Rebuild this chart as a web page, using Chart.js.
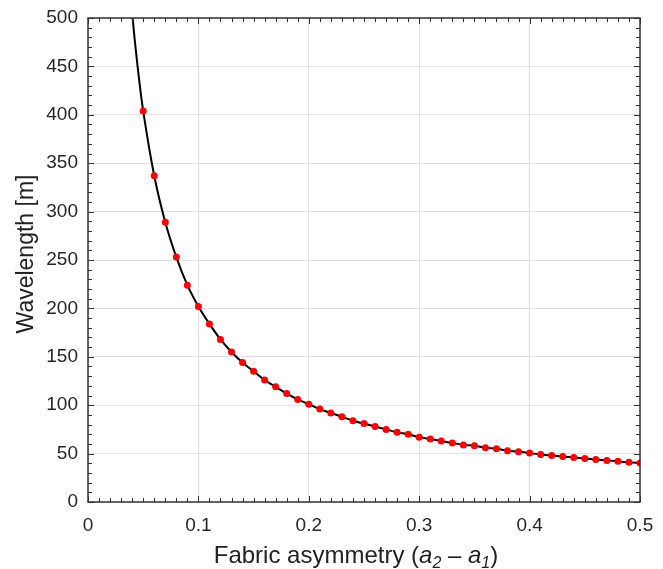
<!DOCTYPE html>
<html>
<head>
<meta charset="utf-8">
<script src="https://cdn.jsdelivr.net/npm/chart.js@4.4.0/dist/chart.umd.min.js"></script>
<style>
    html, body { margin: 0; padding: 0; background: #fff; }
    #wrap { width: 663px; height: 569px; }
</style>
</head>
<body>
<div id="wrap"><canvas id="myChart" width="663" height="569"></canvas></div>
<script>
// red markers
const asymmetry = [0.05, 0.06, 0.07, 0.08, 0.09, 0.10, 0.11, 0.12, 0.13, 0.14,
    0.15, 0.16, 0.17, 0.18, 0.19, 0.20, 0.21, 0.22, 0.23, 0.24,
    0.25, 0.26, 0.27, 0.28, 0.29, 0.30, 0.31, 0.32, 0.33, 0.34,
    0.35, 0.36, 0.37, 0.38, 0.39, 0.40, 0.41, 0.42, 0.43, 0.44,
    0.45, 0.46, 0.47, 0.48, 0.49, 0.50];
const wavelength = [404, 337, 289, 253, 224, 202, 184, 168, 155, 144,
    135, 126, 119, 112, 106, 101, 96, 92, 88, 84,
    81, 78, 75, 72, 70, 67, 65, 63, 61, 59,
    58, 56, 55, 53, 52, 50.5, 49, 48, 47, 46,
    45, 44, 43, 42, 41, 40.4];

// black curve, starts above the top of the plot
const curveHeadX = [0.0395, 0.042, 0.045, 0.0475];
const curveHeadY = [511, 481, 449, 425];

const xTicks = [0, 0.1, 0.2, 0.3, 0.4, 0.5];
const yTicks = [0, 50, 100, 150, 200, 250, 300, 350, 400, 450, 500];

const FONT = '"Liberation Sans", Arial, Helvetica, sans-serif';

const dots = asymmetry.map((v, i) => ({x: v, y: wavelength[i]}));
const curve = curveHeadX.map((v, i) => ({x: v, y: curveHeadY[i]})).concat(dots);

const frameTicks = {
    id: 'frameTicks',
    afterDatasetsDraw(chart) {
        const {ctx, chartArea: a, scales: {x, y}} = chart;
        ctx.save();
        ctx.strokeStyle = '#333';
        ctx.lineWidth = 1;
        ctx.beginPath();
        // inward ticks, minor every 0.01 / 10
        for (let i = 0; i <= 50; i++) {
            const px = Math.round(x.getPixelForValue(i / 100)) + 0.5;
            const len = i % 10 === 0 ? 6 : 4;
            ctx.moveTo(px, a.bottom); ctx.lineTo(px, a.bottom - len);
            ctx.moveTo(px, a.top); ctx.lineTo(px, a.top + len);
        }
        for (let i = 0; i <= 50; i++) {
            const py = Math.round(y.getPixelForValue(i * 10)) + 0.5;
            const len = i % 5 === 0 ? 6 : 4;
            ctx.moveTo(a.left, py); ctx.lineTo(a.left + len, py);
            ctx.moveTo(a.right, py); ctx.lineTo(a.right - len, py);
        }
        ctx.stroke();
        ctx.lineWidth = 1.5;
        ctx.strokeRect(a.left, a.top, a.right - a.left, a.bottom - a.top);

        // axis titles
        ctx.fillStyle = '#222';
        ctx.textBaseline = 'alphabetic';
        const parts = [
            {t: 'Fabric asymmetry (', f: '24px ' + FONT, dy: 0},
            {t: 'a', f: 'italic 24px ' + FONT, dy: 0},
            {t: '2', f: 'italic 16px ' + FONT, dy: 5},
            {t: ' \u2013 ', f: '24px ' + FONT, dy: 0},
            {t: 'a', f: 'italic 24px ' + FONT, dy: 0},
            {t: '1', f: 'italic 16px ' + FONT, dy: 5},
            {t: ')', f: '24px ' + FONT, dy: 0}
        ];
        let total = 0;
        parts.forEach(p => { ctx.font = p.f; p.w = ctx.measureText(p.t).width; total += p.w; });
        let cx = (a.left + a.right) / 2 - 8 - total / 2;
        const base = 563;
        parts.forEach(p => {
            ctx.font = p.f;
            ctx.textAlign = 'left';
            ctx.fillText(p.t, cx, base + p.dy);
            cx += p.w;
        });

        ctx.translate(27, (a.top + a.bottom) / 2 - 6);
        ctx.rotate(-Math.PI / 2);
        ctx.font = '23px ' + FONT;
        ctx.textAlign = 'center';
        ctx.textBaseline = 'middle';
        ctx.fillText('Wavelength [m]', 0, 0);
        ctx.restore();
    }
};

const ctx = document.getElementById('myChart').getContext('2d');

const myChart = new Chart(ctx, {
    type: 'scatter',
    data: {
        datasets: [{
            label: 'points',
            data: dots,
            pointRadius: 3.5,
            pointBackgroundColor: '#ff0000',
            pointBorderWidth: 0,
            showLine: false
        }, {
            label: 'curve',
            data: curve,
            showLine: true,
            borderColor: '#000',
            borderWidth: 2,
            pointRadius: 0,
            cubicInterpolationMode: 'monotone'
        }]
    },
    options: {
        responsive: false,
        animation: false,
        devicePixelRatio: 1,
        layout: {
            padding: {top: 18, right: 23, left: 0, bottom: 0}
        },
        plugins: {
            legend: {display: false},
            tooltip: {enabled: false}
        },
        scales: {
            x: {
                type: 'linear',
                min: 0,
                max: 0.5,
                afterBuildTicks: (scale) => { scale.ticks = xTicks.map(v => ({value: v})); },
                afterFit: (scale) => {
                    scale.height = 67;
                    scale.paddingLeft = 0;
                    scale.paddingRight = 0;
                },
                grid: {color: '#e2e2e2', drawTicks: false},
                border: {display: false},
                ticks: {
                    color: '#262626',
                    padding: 12,
                    font: {family: FONT, size: 19},
                    callback: (v) => String(v)
                }
            },
            y: {
                type: 'linear',
                min: 0,
                max: 500,
                afterBuildTicks: (scale) => { scale.ticks = yTicks.map(v => ({value: v})); },
                afterFit: (scale) => {
                    scale.width = 88;
                    scale.paddingTop = 0;
                    scale.paddingBottom = 0;
                },
                grid: {color: '#e2e2e2', drawTicks: false},
                border: {display: false},
                ticks: {
                    color: '#262626',
                    padding: 10,
                    font: {family: FONT, size: 19},
                    callback: (v) => String(v)
                }
            }
        }
    },
    plugins: [frameTicks]
});
</script>
</body>
</html>
